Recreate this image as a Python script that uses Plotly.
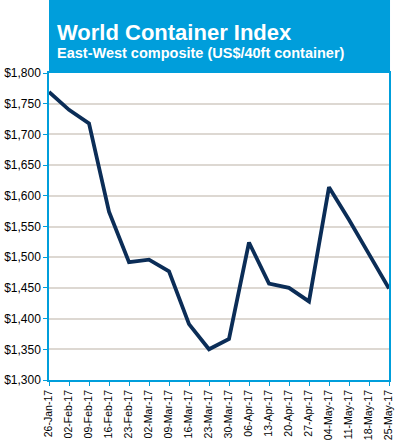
import plotly.graph_objects as go

dates = ["26-Jan-17", "02-Feb-17", "09-Feb-17", "16-Feb-17", "23-Feb-17", "02-Mar-17",
         "09-Mar-17", "16-Mar-17", "23-Mar-17", "30-Mar-17", "06-Apr-17", "13-Apr-17",
         "20-Apr-17", "27-Apr-17", "04-May-17", "11-May-17", "18-May-17", "25-May-17"]
values = [1769, 1740, 1718, 1574, 1492, 1496, 1477, 1391, 1350, 1367, 1524, 1457,
          1450, 1428, 1614, 1561, 1505, 1449]
y_ticks = [1300, 1350, 1400, 1450, 1500, 1550, 1600, 1650, 1700, 1750, 1800]
y_labels = ["$" + format(v, ",") for v in y_ticks]

title = "World Container Index"
subtitle = "East-West composite (US$/40ft container)"

BLUE = "#009EDB"
NAVY = "#0B2D57"
GRID = "#DDD8D2"
FONT = "Liberation Sans, Arial, sans-serif"

fig = go.Figure()
fig.add_trace(go.Scatter(
    x=list(range(len(dates))), y=values, mode="lines",
    line=dict(color=NAVY, width=3.8), hoverinfo="skip", showlegend=False,
))

fig.update_layout(
    width=396, height=447,
    margin=dict(l=49, r=7, t=73, b=67),
    paper_bgcolor="white", plot_bgcolor="white",
    font=dict(family=FONT, color="#000000"),
    xaxis=dict(
        range=[0, len(dates) - 1], automargin=False,
        tickmode="array", tickvals=list(range(len(dates))), ticktext=dates,
        tickangle=-90, tickfont=dict(size=10.5, family=FONT, color="#000"),
        showgrid=False, zeroline=False,
        showline=True, linecolor=BLUE, linewidth=1.5, mirror=True,
        ticks="outside", ticklen=4, tickcolor=BLUE, tickwidth=1,
    ),
    yaxis=dict(
        range=[1300, 1800], automargin=False,
        tickmode="array", tickvals=y_ticks, ticktext=y_labels,
        tickfont=dict(size=12, family=FONT, color="#000"),
        showgrid=True, gridcolor=GRID, gridwidth=1.5, zeroline=False,
        showline=True, linecolor=BLUE, linewidth=1.5, mirror=True,
        ticks="outside", ticklen=4, tickcolor=BLUE, tickwidth=1,
    ),
    shapes=[dict(
        type="rect", xref="paper", yref="paper",
        x0=0, x1=1.003, y0=1, y1=1 + 74 / 307,
        fillcolor=BLUE, line=dict(width=0), layer="above",
    )],
    annotations=[
        dict(text="<b>" + title + "</b>", xref="paper", yref="paper",
             x=6 / 340, y=1 + 26 / 307, xanchor="left", yanchor="bottom",
             showarrow=False, font=dict(size=22, color="white", family=FONT)),
        dict(text="<b>" + subtitle + "</b>", xref="paper", yref="paper",
             x=6 / 340, y=1 + 10 / 307, xanchor="left", yanchor="bottom",
             showarrow=False, font=dict(size=14.5, color="white", family=FONT)),
    ],
)

fig.write_html("out.html", config={"displayModeBar": False},
               post_script="document.body.style.margin='0';document.body.style.overflow='hidden';")
